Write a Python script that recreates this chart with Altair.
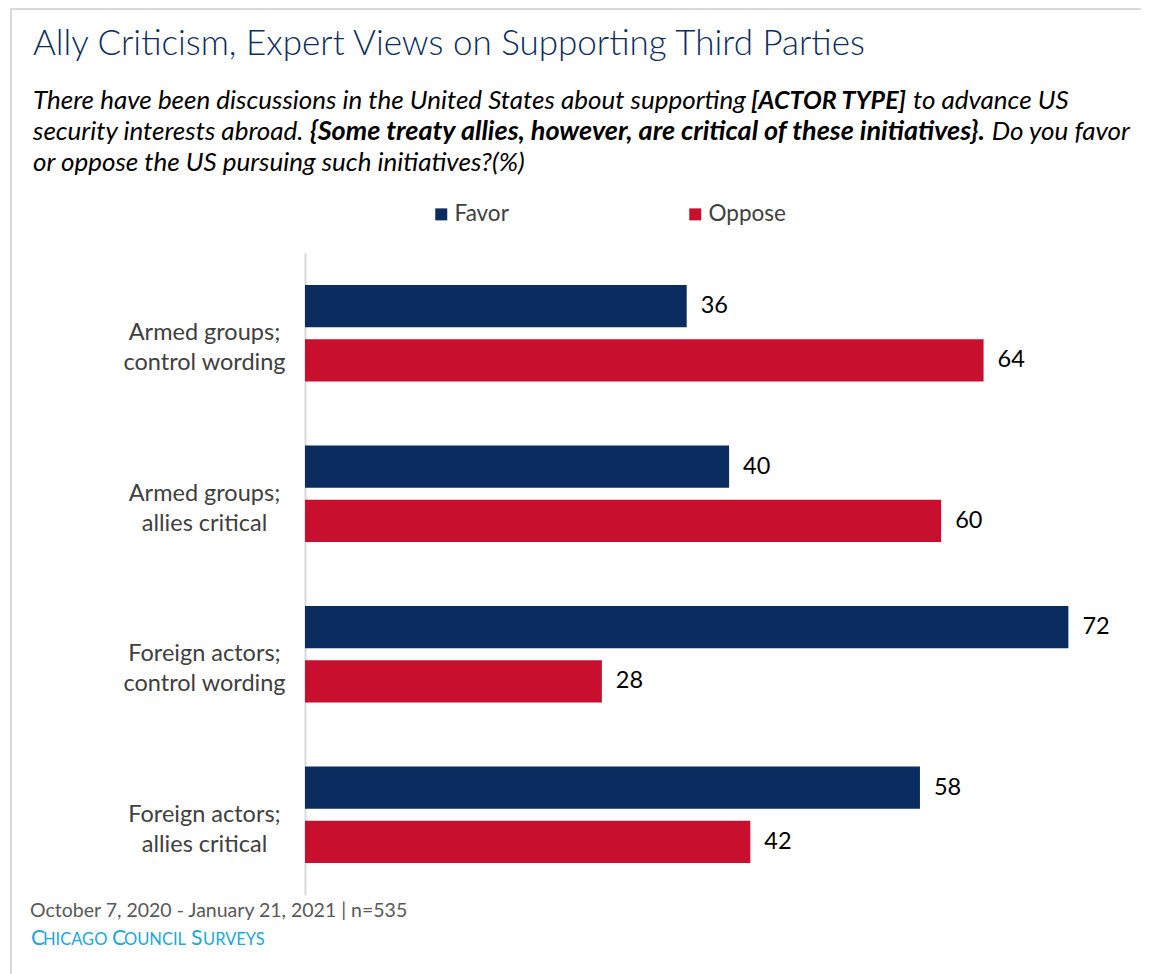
import altair as alt
import pandas as pd

categories = [
    "Armed groups; control wording",
    "Armed groups; allies critical",
    "Foreign actors; control wording",
    "Foreign actors; allies critical",
]
series = ["Favor", "Oppose"]
favor = [36, 40, 72, 58]
oppose = [64, 60, 28, 42]
colors = ["#0b2c5f", "#c8102e"]

rows = []
for c, f, o in zip(categories, favor, oppose):
    rows.append({"category": c, "series": "Favor", "value": f})
    rows.append({"category": c, "series": "Oppose", "value": o})
df = pd.DataFrame(rows)

FONT = "Lato"
one = pd.DataFrame({"k": [0]})

def txt(text, x, y, size, color="#000000", style="normal", weight="normal", align="left"):
    return alt.Chart(one).mark_text(
        text=text, font=FONT, fontSize=size, color=color, fontStyle=style,
        fontWeight=weight, align=align, baseline="alphabetic",
    ).encode(x=alt.value(x), y=alt.value(y))

PX, PY = 305, 253  # plot origin in page coordinates

def P(x, y):
    return x - PX, y - PY

base = alt.Chart(df).encode(
    y=alt.Y("category:N", sort=categories, title=None,
            scale=alt.Scale(paddingInner=0.4, paddingOuter=0.2),
            axis=alt.Axis(
                domain=True, domainColor="#d9d9d9", domainWidth=2,
                ticks=False, tickSize=0, grid=False,
                labelAlign="center", labelBaseline="middle", labelPadding=101,
                labelFont=FONT, labelFontSize=23.5, labelColor="#404040",
                labelLineHeight=30, labelLimit=0,
                labelExpr="[slice(datum.label, 0, indexof(datum.label, ';') + 1), slice(datum.label, indexof(datum.label, ';') + 2)]",
            )),
    yOffset=alt.YOffset("series:N", sort=series,
                        scale=alt.Scale(paddingInner=0.222, paddingOuter=0)),
    x=alt.X("value:Q", scale=alt.Scale(domain=[0, 78]), axis=None),
)

bars = base.mark_bar().encode(
    color=alt.Color("series:N", sort=series,
                    scale=alt.Scale(domain=series, range=colors),
                    legend=alt.Legend(
                        title=None, orient="none", direction="horizontal",
                        legendX=125, legendY=-50, padding=0,
                        symbolType="square", symbolSize=144, symbolStrokeWidth=0,
                        labelFont=FONT, labelFontSize=22.5, labelColor="#404040",
                        labelOffset=2, columnPadding=175,
                    ))
)

labels = base.mark_text(
    align="left", baseline="middle", dx=14, font=FONT, fontSize=23.5, color="#000000"
).encode(text=alt.Text("value:Q"))

layers = [bars, labels]

# frame lines
layers.append(alt.Chart(one).mark_rule(color="#d9d9d9", strokeWidth=2).encode(
    x=alt.value(P(10, 0)[0]), x2=alt.value(1149 - PX), y=alt.value(P(0, 9)[1])))
layers.append(alt.Chart(one).mark_rule(color="#d9d9d9", strokeWidth=2).encode(
    x=alt.value(P(11, 0)[0]), y=alt.value(P(0, 9)[1]), y2=alt.value(P(0, 974)[1])))

# title
layers.append(txt("Ally Criticism, Expert Views on Supporting Third Parties",
                  *P(33, 55), 35, color="#0c2d5e", weight=300))

# subtitle
IT = "italic"
layers += [
    txt("There have been discussions in the United States about supporting", *P(33, 109), 26, style=IT),
    txt("[ACTOR TYPE]", *P(751, 109), 25, style=IT, weight="bold"),
    txt("to advance US", *P(913, 109), 26, style=IT),
    txt("security interests abroad.", *P(33, 140), 26, style=IT),
    txt("{Some treaty allies, however, are critical of these initiatives}.", *P(310, 140), 27, style=IT, weight="bold"),
    txt("Do you favor", *P(1130, 140), 26, style=IT, align="right"),
    txt("or oppose the US pursuing such initiatives?(%)", *P(33, 171), 26, style=IT),
]

# footer
layers.append(txt("October 7, 2020 - January 21, 2021 | n=535", *P(30, 917), 19.5, color="#595959"))
BLUE = "#1aa7dc"
for t, x, s in [("C", 31, 21), ("HICAGO", 43, 16.5), ("C", 112, 21), ("OUNCIL", 124, 16.5),
                ("S", 191, 21), ("URVEYS", 203, 16.5)]:
    layers.append(txt(t, *P(x, 945), s, color=BLUE))

chart = alt.layer(*layers).properties(
    width=827, height=642,
    padding={"left": PX - 8, "top": PY - 8, "right": 1149 - 8 - PX - 827, "bottom": 80},
    autosize=alt.AutoSizeParams(type="none"),
).configure_view(stroke=None)

chart.save("out.html", embed_options={"renderer": "svg", "actions": False})
